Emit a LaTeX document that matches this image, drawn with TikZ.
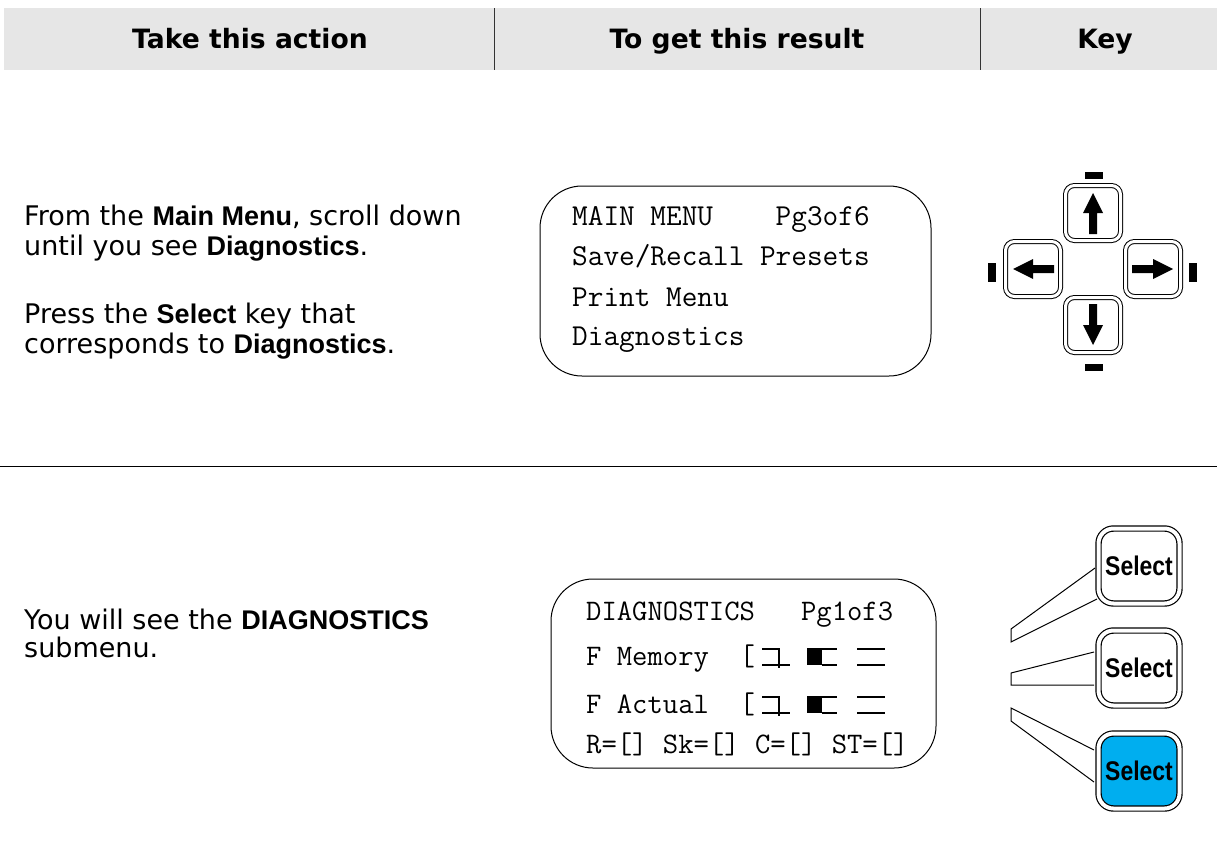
\documentclass[tikz,border=0pt]{standalone}
\usepackage{fontspec}
\setmainfont{DejaVu Sans}
\newfontfamily\arialfont{Liberation Sans}
\newfontfamily\narrowfont{Liberation Sans}[FakeStretch=0.85]
\definecolor{hdrgray}{HTML}{E6E6E6}
\definecolor{selblue}{HTML}{00AEEF}
\newcommand\kw[1]{{\arialfont\bfseries #1}}
\tikzset{
  body/.style={anchor=base west, inner sep=0pt, font=\fontsize{27}{30}\selectfont},
  hdr/.style={anchor=base, inner sep=0pt, font=\fontsize{26.6}{30}\selectfont\bfseries},
  lcd/.style={anchor=base west, inner sep=0pt, font=\fontsize{30.4}{32}\ttfamily},
  lcdb/.style={anchor=base west, inner sep=0pt, font=\fontsize{29.8}{32}\ttfamily},
  screen/.style={draw, line width=1pt, rounded corners=42pt},
  arrowkey/.style={draw, double, double distance=3pt, line width=1pt, rounded corners=9pt, minimum width=55pt, minimum height=55pt, inner sep=0pt},
  selkey/.style={draw, double, double distance=4pt, line width=1.2pt, rounded corners=15pt, minimum width=81pt, minimum height=75pt, inner sep=0pt,
     font=\fontsize{27}{28}\narrowfont\bfseries},
  glyph/.style={line width=1.2pt},
  keyarrow/.pic={\fill (0,-20) -- (10,0) -- (4,0) -- (4,21) -- (-4,21) -- (-4,0) -- (-10,0) -- cycle;}
}
\begin{document}
\begin{tikzpicture}[x=1pt,y=-1pt]
\useasboundingbox (0,0) rectangle (1217,857);
% header
\fill[hdrgray] (4,8) rectangle (1217,70);
\draw[line width=1pt, black!80] (494,8) -- (494,70);
\draw[line width=1pt, black!80] (980,8) -- (980,70);
\node[hdr] (h1) at (250,48) {Take this action};
\node[hdr] (h2) at (737,48) {To get this result};
\node[hdr] (h3) at (1105,48) {Key};
% separator
\draw[line width=1pt] (0,466) -- (1217,466);
% left texts
\node[body] (t1) at (24,225) {From the \kw{Main Menu}, scroll down};
\node[body] (t2) at (24,255) {until you see \kw{Diagnostics}.};
\node[body] (t3) at (24,323) {Press the \kw{Select} key that};
\node[body] (t4) at (24,353) {corresponds to \kw{Diagnostics}.};
\node[body] (t5) at (24,629) {You will see the \kw{DIAGNOSTICS}};
\node[body] (t6) at (24,657) {submenu.};
% screen 1
\draw[screen] (540,186) rectangle (931,376);
\node[lcd] (m1) at (572,225) {MAIN MENU\ \ \ \ Pg3of6};
\node[lcd] (m2) at (572,265) {Save/Recall Presets};
\node[lcd] (m3) at (572,306) {Print Menu};
\node[lcd] (m4) at (572,345) {Diagnostics};
% screen 2
\draw[screen] (551,579) rectangle (936,768);
\node[lcdb] (d1) at (586,620) {DIAGNOSTICS\ \ \ Pg1of3};
\node[lcdb] (d2) at (586,665) {F Memory\ \ [};
\node[lcdb] (d3) at (586,713) {F Actual\ \ [};
\node[lcdb] (d4) at (586,753) {R=[] Sk=[] C=[] ST=[]};
\foreach \b in {665,713}{
  \draw[glyph] (762,\b-16) -- (780,\b-16) (779,\b-17) -- (779,\b+3) (762,\b) -- (790,\b);
  \fill (807,\b-17) rectangle (822,\b);
  \draw[glyph] (822,\b-16) -- (837,\b-16) (822,\b) -- (837,\b);
  \draw[glyph] (857,\b-16) -- (885,\b-16) (857,\b) -- (885,\b);
}
% arrow keys
\node[arrowkey] (up) at (1093,213) {};
\node[arrowkey] (left) at (1033,269) {};
\node[arrowkey] (right) at (1153,269) {};
\node[arrowkey] (down) at (1093,325) {};
\pic at (up) {keyarrow};
\pic[rotate=90] at (left) {keyarrow};
\pic[rotate=-90] at (right) {keyarrow};
\pic[rotate=180] at (down) {keyarrow};
\fill (1085,172) rectangle (1103,179);
\fill (1085,364) rectangle (1103,371);
\fill (988,263) rectangle (996,282);
\fill (1189,263) rectangle (1197,282);
% select keys
\node[selkey] (s1) at (1139,566) {Select};
\node[selkey] (s2) at (1139,668) {Select};
\node[selkey, fill=selblue] (s3) at (1139,771) {Select};
\draw[line width=1pt] (1095,568) -- (1011,629) -- (1011,642) -- (1097,599);
\draw[line width=1pt] (1094,652) -- (1011,673) -- (1011,685) -- (1094,685);
\draw[line width=1pt] (1094,750) -- (1011,708) -- (1011,721) -- (1094,782);
\end{tikzpicture}
\end{document}
